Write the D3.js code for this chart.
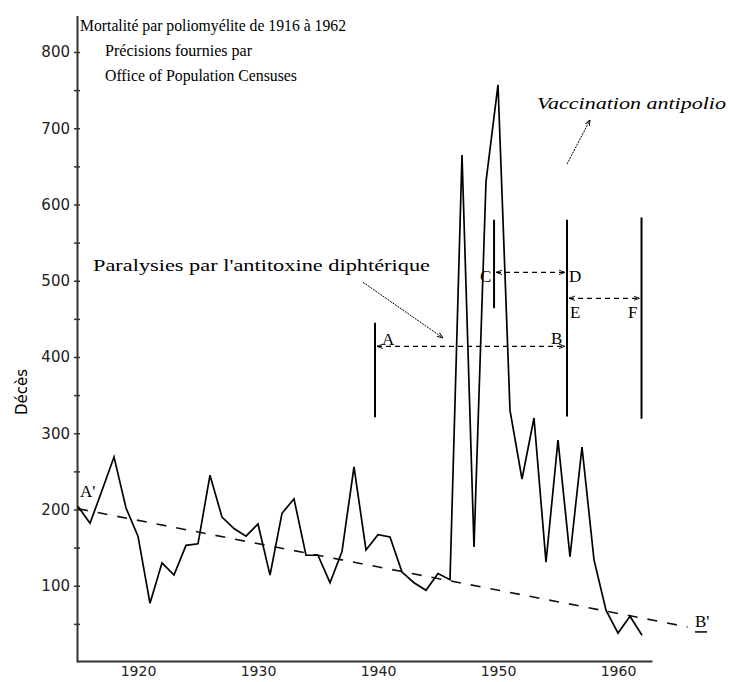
<!DOCTYPE html>
<html>
<head>
<meta charset="utf-8">
<script src="https://cdn.jsdelivr.net/npm/d3@7"></script>
<style>
  body { margin: 0; background: #fff; }
  svg { display: block; }
</style>
</head>
<body>
<div id="chart"></div>
<script>
// polio deaths, England & Wales
var years = [1915, 1916, 1917, 1918, 1919, 1920, 1921, 1922, 1923, 1924, 1925, 1926,
  1927, 1928, 1929, 1930, 1931, 1932, 1933, 1934, 1935, 1936, 1937, 1938, 1939, 1940,
  1941, 1942, 1943, 1944, 1945, 1946, 1947, 1948, 1949, 1950, 1951, 1952, 1953, 1954,
  1955, 1956, 1957, 1958, 1959, 1960, 1961, 1962];
var deaths = [204, 182, 225, 269, 202, 165, 77, 130, 114, 153, 155, 245,
  190, 175, 165, 181, 114, 195, 214, 140, 140, 104, 145, 256, 147, 167,
  164, 118, 104, 94, 116, 108, 665, 151, 630, 757, 330, 240, 320, 131,
  291, 138, 282, 134, 68, 38, 60, 35];

// dashed trend A' -> B'
var trendYears = [1915, 1965.8];
var trendValues = [201, 46];

var xTickYears = [1920, 1930, 1940, 1950, 1960];
var yMajorTicks = [100, 200, 300, 400, 500, 600, 700, 800];
var yMinorTicks = [50, 150, 250, 350, 450, 550, 650, 750];

// vertical marker bars (year, low, high)
var markerYears = [1939.75, 1949.67, 1955.75, 1961.96];
var markerLow = [321, 464, 322, 319];
var markerHigh = [445, 580, 580, 583];

// double arrows between markers (from year, to year, level)
var spanFrom = [1939.75, 1949.67, 1955.75];
var spanTo = [1955.75, 1955.75, 1961.96];
var spanLevel = [414, 511, 477];

var letterText = ['A', 'B', 'C', 'D', 'E', 'F', "A'", "B'"];
var letterYear = [1940.33, 1954.42, 1948.5, 1955.92, 1956, 1960.83, 1915.17, 1966.42];
var letterValue = [416, 417, 498, 498, 451, 451, 216, 46];

var width = 730, height = 682;

var svg = d3.select('#chart').append('svg')
    .attr('width', width)
    .attr('height', height);

var x = d3.scaleLinear().domain([1920, 1960]).range([138, 618]);
var y = d3.scaleLinear().domain([0, 800]).range([662, 52]);

// y axis
var yAxisScale = d3.scaleLinear().domain([0, 848]).range([y(0), y(848)]);
var yAxis = svg.append('g')
    .attr('transform', 'translate(77,0)')
    .call(d3.axisLeft(yAxisScale)
      .tickValues(yMajorTicks.concat(yMinorTicks))
      .tickSizeInner(3)
      .tickSizeOuter(0)
      .tickPadding(4)
      .tickFormat(function(d) { return d % 100 === 0 ? d : ''; }));
yAxis.select('.domain').attr('stroke', '#333').attr('stroke-width', 2);
yAxis.selectAll('.tick line').attr('x1', 3).attr('x2', -3)
    .attr('stroke', '#333').attr('stroke-width', 1.5);
yAxis.selectAll('.tick text')
    .attr('font-family', 'DejaVu Sans')
    .attr('font-size', 15)
    .attr('fill', '#222');

// x axis, no ticks
var xAxisScale = x.copy().domain([1914.92, 1962.83]).range([x(1914.92), x(1962.83)]);
var xAxis = svg.append('g')
    .attr('transform', 'translate(0,661)')
    .call(d3.axisBottom(xAxisScale)
      .tickValues(xTickYears)
      .tickSize(0)
      .tickPadding(5)
      .tickFormat(d3.format('d')));
xAxis.select('.domain').attr('stroke', '#333').attr('stroke-width', 2);
xAxis.selectAll('.tick text')
    .attr('font-family', 'DejaVu Sans')
    .attr('font-size', 14)
    .attr('fill', '#222');

svg.append('text')
    .attr('transform', 'translate(27,392) rotate(-90)')
    .attr('text-anchor', 'middle')
    .attr('font-family', 'DejaVu Sans')
    .attr('font-size', 15)
    .text('Décès');

// trend line
svg.append('line')
    .attr('x1', x(trendYears[0])).attr('y1', y(trendValues[0]))
    .attr('x2', x(trendYears[1])).attr('y2', y(trendValues[1]))
    .attr('stroke', '#111')
    .attr('stroke-width', 1.6)
    .attr('stroke-dasharray', '10,10');

// data line
var line = d3.line()
    .x(function(d, i) { return x(years[i]); })
    .y(function(d) { return y(d); });
svg.append('path')
    .datum(deaths)
    .attr('d', line)
    .attr('fill', 'none')
    .attr('stroke', '#000')
    .attr('stroke-width', 1.7)
    .attr('stroke-linejoin', 'miter');

// arrow head
var defs = svg.append('defs');
defs.append('marker')
    .attr('id', 'head')
    .attr('viewBox', '0 -4 8 8')
    .attr('refX', 8).attr('refY', 0)
    .attr('markerWidth', 6).attr('markerHeight', 6)
    .attr('markerUnits', 'userSpaceOnUse')
    .attr('orient', 'auto-start-reverse')
    .append('path')
    .attr('d', 'M0,-3L8,0L0,3')
    .attr('fill', 'none')
    .attr('stroke', '#000')
    .attr('stroke-width', 1.2);

svg.selectAll('.bar')
    .data(markerYears)
    .enter().append('line')
    .attr('class', 'bar')
    .attr('x1', function(d) { return x(d); })
    .attr('x2', function(d) { return x(d); })
    .attr('y1', function(d, i) { return y(markerLow[i]); })
    .attr('y2', function(d, i) { return y(markerHigh[i]); })
    .attr('stroke', '#000')
    .attr('stroke-width', 2);

svg.selectAll('.span')
    .data(spanLevel)
    .enter().append('line')
    .attr('class', 'span')
    .attr('x1', function(d, i) { return x(spanFrom[i]) + 2; })
    .attr('x2', function(d, i) { return x(spanTo[i]) - 2; })
    .attr('y1', function(d) { return y(d); })
    .attr('y2', function(d) { return y(d); })
    .attr('stroke', '#000')
    .attr('stroke-width', 1.3)
    .attr('stroke-dasharray', '5,4')
    .attr('marker-start', 'url(#head)')
    .attr('marker-end', 'url(#head)');

svg.selectAll('.letter')
    .data(letterText)
    .enter().append('text')
    .attr('class', 'letter')
    .attr('x', function(d, i) { return x(letterYear[i]); })
    .attr('y', function(d, i) { return y(letterValue[i]); })
    .attr('font-family', 'Liberation Serif')
    .attr('font-size', 17)
    .text(function(d) { return d; });

// underline under B'
svg.append('line')
    .attr('x1', x(1966.42)).attr('x2', x(1966.42) + 12)
    .attr('y1', y(46) + 5).attr('y2', y(46) + 5)
    .attr('stroke', '#000').attr('stroke-width', 1.5);

// pointers
svg.append('line')
    .attr('x1', x(1938.75)).attr('y1', y(498))
    .attr('x2', x(1945.42)).attr('y2', y(425))
    .attr('stroke', '#000').attr('stroke-width', 1)
    .attr('stroke-dasharray', '2,1')
    .attr('marker-end', 'url(#head)');
svg.append('line')
    .attr('x1', x(1955.75)).attr('y1', y(653))
    .attr('x2', x(1957.67)).attr('y2', y(711))
    .attr('stroke', '#000').attr('stroke-width', 1)
    .attr('stroke-dasharray', '2,1')
    .attr('marker-end', 'url(#head)');

svg.append('text')
    .attr('x', x(1916.25)).attr('y', y(513))
    .attr('font-family', 'Liberation Serif')
    .attr('font-size', 17)
    .attr('textLength', 337)
    .attr('lengthAdjust', 'spacingAndGlyphs')
    .text("Paralysies par l'antitoxine diphtérique");

svg.append('text')
    .attr('x', x(1953.25)).attr('y', y(725))
    .attr('font-family', 'Liberation Serif')
    .attr('font-style', 'italic')
    .attr('font-size', 16)
    .attr('textLength', 189)
    .attr('lengthAdjust', 'spacingAndGlyphs')
    .text('Vaccination antipolio');

// title block
var titleLines = [
  { t: 'Mortalité par poliomyélite de 1916 à 1962', x: 80, y: 31, w: 266 },
  { t: 'Précisions fournies par', x: 105, y: 56, w: 147 },
  { t: 'Office of Population Censuses', x: 105, y: 81, w: 192 }
];
svg.selectAll('.title')
    .data(titleLines)
    .enter().append('text')
    .attr('class', 'title')
    .attr('x', function(d) { return d.x; })
    .attr('y', function(d) { return d.y; })
    .attr('font-family', 'Liberation Serif')
    .attr('font-size', 17)
    .attr('textLength', function(d) { return d.w; })
    .attr('lengthAdjust', 'spacingAndGlyphs')
    .text(function(d) { return d.t; });
</script>
</body>
</html>
